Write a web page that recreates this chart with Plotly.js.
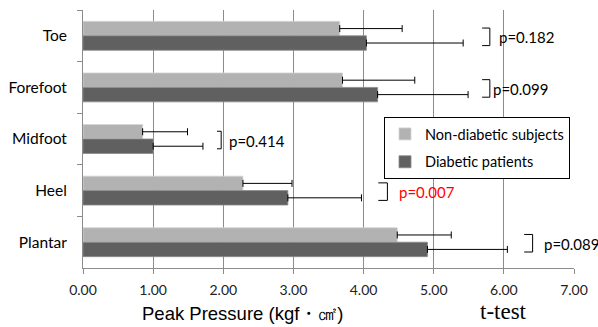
<!DOCTYPE html>
<html>
<head>
<meta charset="utf-8">
<script src="https://cdn.plot.ly/plotly-3.0.1.min.js"></script>
<style>html,body{margin:0;padding:0;background:#fff;}#chart{width:598px;height:327px;}</style>
</head>
<body>
<div id="chart"></div>
<script>
// ---- data ----
const categories = ['Toe', 'Forefoot', 'Midfoot', 'Heel', 'Plantar'];
const nonDiabetic = [3.66, 3.70, 0.85, 2.28, 4.48];
const nonDiabeticSD = [0.89, 1.03, 0.64, 0.70, 0.77];
const diabetic = [4.04, 4.20, 1.00, 2.92, 4.91];
const diabeticSD = [1.38, 1.29, 0.71, 1.05, 1.14];
const pValues = ['0.182', '0.099', '0.414', '0.007', '0.089'];
const significant = [false, false, false, true, false];
const xTicks = [0, 1, 2, 3, 4, 5, 6, 7];

// ---- layout positions of the t-test brackets (x in axis units) ----
const bracketX0 = [5.69, 5.69, 1.91, 4.21, 6.29];
const bracketX1 = [5.80, 5.80, 1.97, 4.34, 6.41];
const textX = [5.90, 5.82, 2.06, 4.48, 6.55];

const FONT = 'Lato, sans-serif';

const traces = [
  {
    type: 'bar', orientation: 'h', name: 'Non-diabetic subjects',
    y: categories, x: nonDiabetic, legendgroup: 'a',
    marker: {color: '#b2b2b2', line: {color: '#d4d4d4', width: 0.8}},
    error_x: {type: 'data', symmetric: false, array: nonDiabeticSD,
              arrayminus: nonDiabeticSD.map(() => 0), color: '#000', thickness: 1, width: 3.5}
  },
  {
    type: 'bar', orientation: 'h', name: 'Diabetic patients',
    y: categories, x: diabetic, legendgroup: 'b',
    marker: {color: '#606060', line: {color: '#8a8a8a', width: 0.8}},
    error_x: {type: 'data', symmetric: false, array: diabeticSD,
              arrayminus: diabeticSD.map(() => 0), color: '#000', thickness: 1, width: 3.5}
  }
];

const shapes = [];
const annotations = [];
categories.forEach((c, i) => {
  const y0 = i - 0.15, y1 = i + 0.19;
  shapes.push({
    type: 'path', xref: 'x', yref: 'y',
    path: `M ${bracketX0[i]},${y0} L ${bracketX1[i]},${y0} L ${bracketX1[i]},${y1} L ${bracketX0[i]},${y1}`,
    line: {color: '#000', width: 1}
  });
  annotations.push({
    xref: 'x', yref: 'y', x: textX[i], y: i + 0.03, xanchor: 'left', yanchor: 'middle',
    text: 'p=' + pValues[i], showarrow: false,
    font: {family: FONT, size: 15, color: significant[i] ? '#ff0000' : '#000'}
  });
});
annotations.push({
  xref: 'paper', yref: 'paper', x: (242 - 83) / 491, y: -(313 - 268) / 258,
  xanchor: 'center', yanchor: 'middle', showarrow: false,
  text: 'Peak Pressure (kgf・㎠)',
  font: {family: 'Arial', size: 18.5, color: '#000'}
});
annotations.push({
  xref: 'paper', yref: 'paper', x: (503 - 83) / 491, y: -(311 - 268) / 258,
  xanchor: 'center', yanchor: 'middle', showarrow: false,
  text: 't-test',
  font: {family: 'Times New Roman', size: 23, color: '#000'}
});

const layout = {
  width: 598, height: 327,
  margin: {l: 83, r: 24, t: 10, b: 59},
  paper_bgcolor: '#fff', plot_bgcolor: '#fff',
  barmode: 'group', bargap: 0.44, bargroupgap: 0,
  font: {family: FONT, color: '#000'},
  xaxis: {
    range: [0, 7], tickvals: xTicks, tickformat: '.2f',
    showgrid: true, gridcolor: '#8c8c8c', gridwidth: 1,
    showline: true, linecolor: '#8c8c8c', linewidth: 1,
    ticks: 'outside', ticklen: 5, tickcolor: '#8c8c8c',
    tickfont: {family: FONT, size: 14, color: '#222'},
    ticklabelstandoff: 4, zeroline: false, fixedrange: true
  },
  yaxis: {
    type: 'category', autorange: 'reversed',
    showline: true, linecolor: '#8c8c8c', linewidth: 1,
    ticks: 'outside', tickson: 'boundaries', ticklen: 5, tickcolor: '#8c8c8c',
    tickfont: {family: FONT, size: 15.5, color: '#000'},
    ticklabelstandoff: 12, showgrid: false, fixedrange: true
  },
  showlegend: true,
  legend: {
    x: (384 - 83) / 491, y: 1 - (117 - 10) / 258, xanchor: 'left', yanchor: 'top',
    bgcolor: '#fff', bordercolor: '#000', borderwidth: 1,
    font: {family: FONT, size: 14.5, color: '#000'},
    traceorder: 'grouped', tracegroupgap: 6, itemwidth: 30
  },
  shapes: shapes,
  annotations: annotations
};

Plotly.newPlot('chart', traces, layout, {staticPlot: true, displayModeBar: false});
</script>
</body>
</html>
